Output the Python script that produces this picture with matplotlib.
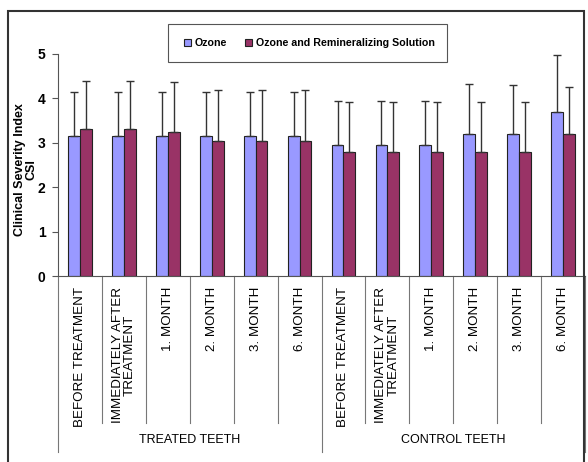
import numpy as np
import matplotlib.pyplot as plt
from matplotlib.patches import Rectangle
from matplotlib.transforms import blended_transform_factory

plt.rcParams['font.family'] = ['Liberation Sans', 'DejaVu Sans']

# data
categories = ['BEFORE TREATMENT', 'IMMEDIATELY AFTER\nTREATMENT', '1. MONTH',
              '2. MONTH', '3. MONTH', '6. MONTH',
              'BEFORE TREATMENT', 'IMMEDIATELY AFTER\nTREATMENT', '1. MONTH',
              '2. MONTH', '3. MONTH', '6. MONTH']
groups = ['TREATED TEETH', 'CONTROL TEETH']
ozone = [3.15, 3.15, 3.15, 3.15, 3.15, 3.15, 2.95, 2.95, 2.95, 3.2, 3.2, 3.7]
ozone_sd = [0.99, 0.99, 0.99, 0.99, 0.99, 0.99, 1.0, 1.0, 1.0, 1.12, 1.1, 1.27]
remin = [3.3, 3.3, 3.25, 3.05, 3.05, 3.05, 2.8, 2.8, 2.8, 2.8, 2.8, 3.2]
remin_sd = [1.09, 1.09, 1.13, 1.15, 1.15, 1.15, 1.11, 1.11, 1.11, 1.11, 1.11, 1.06]

W, H = 588, 462
fig = plt.figure(figsize=(W / 100, H / 100), dpi=100)
ax = fig.add_axes([58 / W, (H - 276) / H, (585 - 58) / W, (276 - 54) / H])

x = np.arange(len(categories))
bw = 0.27
err_kw = dict(ecolor='#333333', elinewidth=1, capsize=3, capthick=1)
ax.bar(x - bw / 2, ozone, bw, color='#9999FF', edgecolor='#222222', linewidth=0.8,
       yerr=[np.zeros(len(x)), ozone_sd], error_kw=err_kw, label='Ozone')
ax.bar(x + bw / 2, remin, bw, color='#993366', edgecolor='#222222', linewidth=0.8,
       yerr=[np.zeros(len(x)), remin_sd], error_kw=err_kw,
       label='Ozone and Remineralizing Solution')

ax.set_xlim(-0.5, len(x) - 0.5)
ax.set_ylim(0, 5)
ax.set_yticks(range(6))
for lbl in ax.get_yticklabels():
    lbl.set_fontweight('bold')
    lbl.set_fontsize(10)
ax.tick_params(axis='y', length=4, color='#555555', pad=5)
ax.set_xticks([])
for s in ['top', 'right']:
    ax.spines[s].set_visible(False)
ax.spines['left'].set_color('#555555')
ax.spines['bottom'].set_color('#555555')
ax.set_ylabel('Clinical Severity Index\nCSI', fontsize=9, fontweight='bold',
              linespacing=1.05)
ax.yaxis.set_label_coords(-0.038, 0.48)

# category labels and separators below the axis
tr = blended_transform_factory(ax.transData, ax.transAxes)
for i, c in enumerate(categories):
    ax.text(i, -0.05, c, transform=tr, rotation=90, ha='center', va='top',
            fontsize=9.6, multialignment='center', linespacing=1.0)
for k in range(len(x) + 1):
    pos = k - 0.5
    low = -0.795 if k % 6 == 0 else -0.662
    ax.plot([pos, pos], [0, low], transform=tr, color='#777777', lw=0.8, clip_on=False)
for g, name in enumerate(groups):
    ax.text(g * 6 + 2.5, -0.74, name, transform=tr, ha='center', va='center', fontsize=9)

# legend with its box
ax.legend(loc='center', bbox_to_anchor=(309 / W, 1 - 43 / H),
          bbox_transform=fig.transFigure, ncol=2, frameon=False,
          prop={'size': 7.7, 'weight': 'bold'}, handlelength=0.7, handleheight=0.7,
          handletextpad=0.3, columnspacing=1.7)
fig.patches.append(Rectangle((168 / W, 1 - 62 / H), (447 - 168) / W, 38 / H,
                             transform=fig.transFigure, fill=False,
                             edgecolor='#555555', lw=0.8))

# outer frame
fig.patches.append(Rectangle((8 / W, -0.05), (584 - 8) / W, 1.05 - 11 / H,
                             transform=fig.transFigure, fill=False,
                             edgecolor='#333333', lw=1.5))

fig.savefig('out.png', dpi=100)
